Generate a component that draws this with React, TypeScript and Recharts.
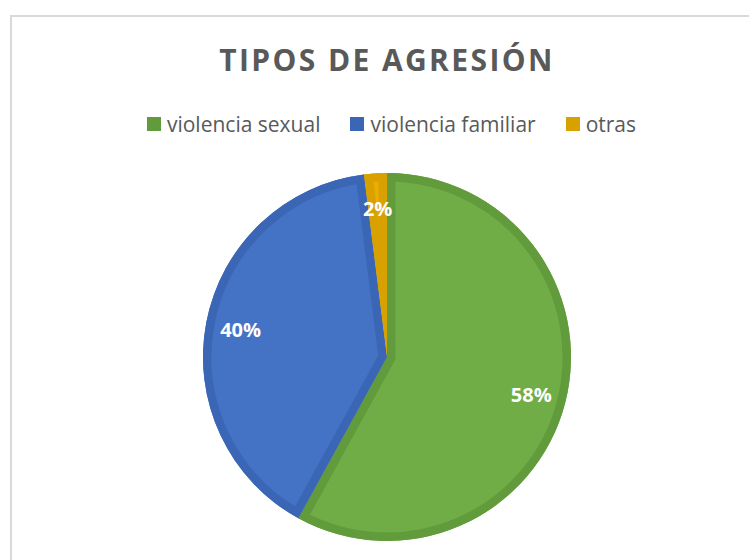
import { PieChart, Pie, Cell, Sector } from 'recharts';

const categories = ['violencia sexual', 'violencia familiar', 'otras'];
const shares = [58, 40, 2];
const fills = ['#70AD47', '#4472C4', '#EAAE00'];
const borders = ['#619B3B', '#3A66B5', '#D9A100'];

const data = categories.map((name, i) => ({ name, value: shares[i] }));

const RAD = Math.PI / 180;

// draws the darker inner border of each slice (clipped to the slice) plus the % text
function renderLabel(props: any) {
  const { cx, cy, midAngle, percent, startAngle, endAngle, outerRadius, index } = props;
  const r = 149;
  const x = cx + r * Math.cos(-midAngle * RAD);
  const y = cy + r * Math.sin(-midAngle * RAD);
  const clipId = `slice-clip-${index}`;
  return (
    <g>
      <defs>
        <clipPath id={clipId}>
          <Sector cx={cx} cy={cy} innerRadius={0} outerRadius={outerRadius} startAngle={startAngle} endAngle={endAngle} />
        </clipPath>
      </defs>
      <Sector
        cx={cx}
        cy={cy}
        innerRadius={0}
        outerRadius={outerRadius}
        startAngle={startAngle}
        endAngle={endAngle}
        fill="none"
        stroke={borders[index]}
        strokeWidth={17}
        clipPath={`url(#${clipId})`}
      />
      <text
        x={x}
        y={y}
        fill="#fff"
        textAnchor="middle"
        dominantBaseline="central"
        fontSize={20}
        fontWeight={700}
        fontFamily="'Open Sans', sans-serif"
      >
        {`${Math.round(percent * 100)}%`}
      </text>
    </g>
  );
}

export default function App() {
  return (
    <div style={{ position: 'absolute', left: 0, top: 0, width: 749, height: 560, overflow: 'hidden', background: '#fff' }}>
      <div style={{ position: 'absolute', left: 10, top: 15, width: 800, height: 600, border: '2px solid #d9d9d9' }} />
      <div
        style={{
          position: 'absolute',
          top: 39,
          left: 0,
          width: 774,
          textAlign: 'center',
          fontFamily: "'Open Sans', sans-serif",
          fontWeight: 700,
          fontSize: 30,
          letterSpacing: 2.4,
          color: '#595959',
        }}
      >
        TIPOS DE AGRESIÓN
      </div>
      <div
        style={{
          position: 'absolute',
          top: 110,
          left: 0,
          width: 783,
          display: 'flex',
          justifyContent: 'center',
          gap: 30,
          fontFamily: "'Open Sans', sans-serif",
          fontSize: 21,
          color: '#595959',
        }}
      >
        {categories.map((c, i) => (
          <div key={c} style={{ display: 'flex', alignItems: 'center' }}>
            <span style={{ width: 14, height: 14, background: borders[i], display: 'inline-block', marginRight: 6 }} />
            <span>{c}</span>
          </div>
        ))}
      </div>
      <PieChart width={749} height={560} margin={{ top: 0, right: 0, bottom: 0, left: 0 }} style={{ position: 'absolute', left: 0, top: 0 }}>
        <Pie
          data={data}
          dataKey="value"
          nameKey="name"
          cx={387}
          cy={357}
          outerRadius={184}
          startAngle={90}
          endAngle={-270}
          label={renderLabel}
          labelLine={false}
          isAnimationActive={false}
        >
          {data.map((d, i) => (
            <Cell key={d.name} fill={fills[i]} stroke="none" />
          ))}
        </Pie>
      </PieChart>
    </div>
  );
}
